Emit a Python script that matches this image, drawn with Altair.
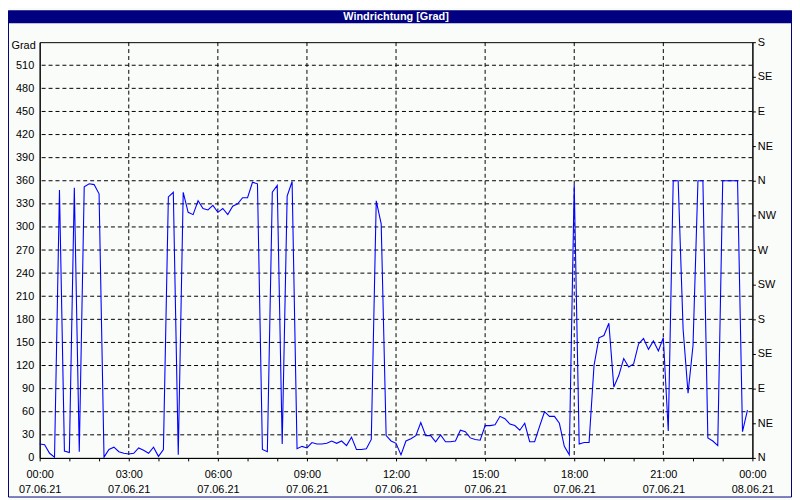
import altair as alt
import pandas as pd

# 10-minute wind direction readings, 07.06.21 00:00 .. 23:50
values = [
    18, 17, 6, 1, 348, 9, 7, 351, 8, 352, 356, 355,
    343, 1, 11, 14, 8, 6, 5, 6, 13, 10, 6, 14,
    2, 11, 339, 345, 4, 345, 319, 316, 334, 324, 322, 328,
    319, 324, 316, 327, 330, 338, 338, 358, 356, 11, 8, 345,
    354, 18, 340, 359, 12, 15, 13, 20, 18, 18, 19, 22,
    19, 22, 16, 27, 11, 11, 12, 24, 334, 304, 29, 22,
    19, 4, 22, 25, 29, 46, 29, 29, 21, 30, 21, 21,
    22, 36, 34, 26, 24, 23, 42, 42, 43, 54, 51, 44,
    42, 36, 45, 21, 21, 41, 60, 54, 54, 45, 15, 4,
    355, 18, 20, 20, 120, 156, 159, 175, 92, 107, 129, 118,
    122, 148, 155, 141, 152, 139, 156, 35, 360, 360, 167, 84,
    146, 360, 360, 26, 22, 16, 360, 360, 360, 360, 34, 62,
]
hours = [i / 6 for i in range(len(values))]

y_ticks = list(range(0, 540, 30))
grid_y = list(range(30, 540, 30))
grid_x = [3, 6, 9, 12, 15, 18, 21]
x_ticks = list(range(0, 25))
compass_ticks = list(range(0, 541, 45))
compass_names = ["N", "NE", "E", "SE", "S", "SW", "W", "NW"]
title_text = "Windrichtung [Grad]"
unit_text = "Grad"

FONT = "Liberation Sans"

df = pd.DataFrame({"h": hours, "v": values})
gy = pd.DataFrame({"g": grid_y})
gx = pd.DataFrame({"g": grid_x})

yscale = alt.Scale(domain=[0, 540], nice=False, zero=False)
xscale = alt.Scale(domain=[0, 24], nice=False, zero=False)

x_axis = alt.Axis(
    values=x_ticks,
    labelExpr="datum.value % 3 == 0 ? [((datum.value % 24) < 10 ? '0' : '') + (datum.value % 24) + ':00', datum.value >= 24 ? '08.06.21' : '07.06.21'] : ''",
    title=None,
    grid=False,
    ticks=True,
    tickSize=3,
    tickColor="black",
    domain=True,
    domainColor="black",
    labelFlush=False,
    labelOverlap=False,
    labelPadding=8,
    labelLineHeight=15,
    labelFont=FONT,
    labelFontSize=11,
    labelColor="black",
    labelBaseline="top",
)

hgrid = alt.Chart(gy).mark_rule(color="black", strokeDash=[4, 3], strokeWidth=1).encode(
    y=alt.Y("g:Q", scale=yscale, axis=None)
)

vgrid = alt.Chart(gx).mark_rule(color="black", strokeDash=[4, 3], strokeWidth=1).encode(
    x=alt.X("g:Q", scale=xscale, axis=x_axis)
)

names_js = "[" + ",".join("'%s'" % n for n in compass_names) + "]"
right_axis = alt.Chart(pd.DataFrame({"c": compass_ticks})).mark_rule(opacity=0).encode(
    y=alt.Y(
        "c:Q",
        scale=yscale,
        axis=alt.Axis(
            orient="right",
            values=compass_ticks,
            labelExpr=names_js + "[round(datum.value / 45) % 8]",
            title=None,
            grid=False,
            ticks=True,
            tickSize=3,
            tickColor="black",
            domain=True,
            domainColor="black",
            labelPadding=2,
            labelFont=FONT,
            labelFontSize=11,
            labelColor="black",
            labelBaseline="middle",
        ),
    )
)

line = alt.Chart(df).mark_line(color="#0000ff", strokeWidth=1.1).encode(
    x=alt.X("h:Q", scale=xscale, axis=x_axis),
    y=alt.Y(
        "v:Q",
        scale=yscale,
        axis=alt.Axis(
            orient="left",
            values=y_ticks,
            title=None,
            grid=False,
            ticks=False,
            domain=True,
            domainColor="black",
            labelPadding=6,
            labelFont=FONT,
            labelFontSize=11,
            labelColor="black",
            labelBaseline="middle",
        ),
    ),
)

title_bar = alt.Chart(pd.DataFrame({"t": [title_text]})).mark_rect(color="#000080").encode(
    x=alt.value(-32), x2=alt.value(760), y=alt.value(-32), y2=alt.value(-19)
)
title = alt.Chart(pd.DataFrame({"t": [title_text]})).mark_text(
    color="white", font=FONT, fontSize=11, fontWeight="bold", align="center", baseline="middle"
).encode(x=alt.value(360), y=alt.value(-25.5), text="t:N")

unit = alt.Chart(pd.DataFrame({"t": [unit_text]})).mark_text(
    color="black", font=FONT, fontSize=11, align="right", baseline="middle"
).encode(x=alt.value(-4), y=alt.value(4), text="t:N")

frame = alt.Chart(pd.DataFrame({"t": [title_text]})).mark_rect(
    filled=False, stroke="#000080", strokeWidth=1
).encode(x=alt.value(-31.5), x2=alt.value(759.5), y=alt.value(-31.5), y2=alt.value(459.5))

chart = (
    alt.layer(hgrid, vgrid, line, right_axis, title_bar, title, unit, frame)
    .resolve_axis(y="independent")
    .properties(
        width=720,
        height=420,
        padding={"left": 32, "top": 32, "right": 40, "bottom": 40},
        autosize=alt.AutoSizeParams(type="none"),
        background="#fafcfa",
    )
    .configure_view(stroke="black", strokeWidth=1, fill="#fafcfa")
)

chart.save("out.html", embed_options={"renderer": "svg", "actions": False})
